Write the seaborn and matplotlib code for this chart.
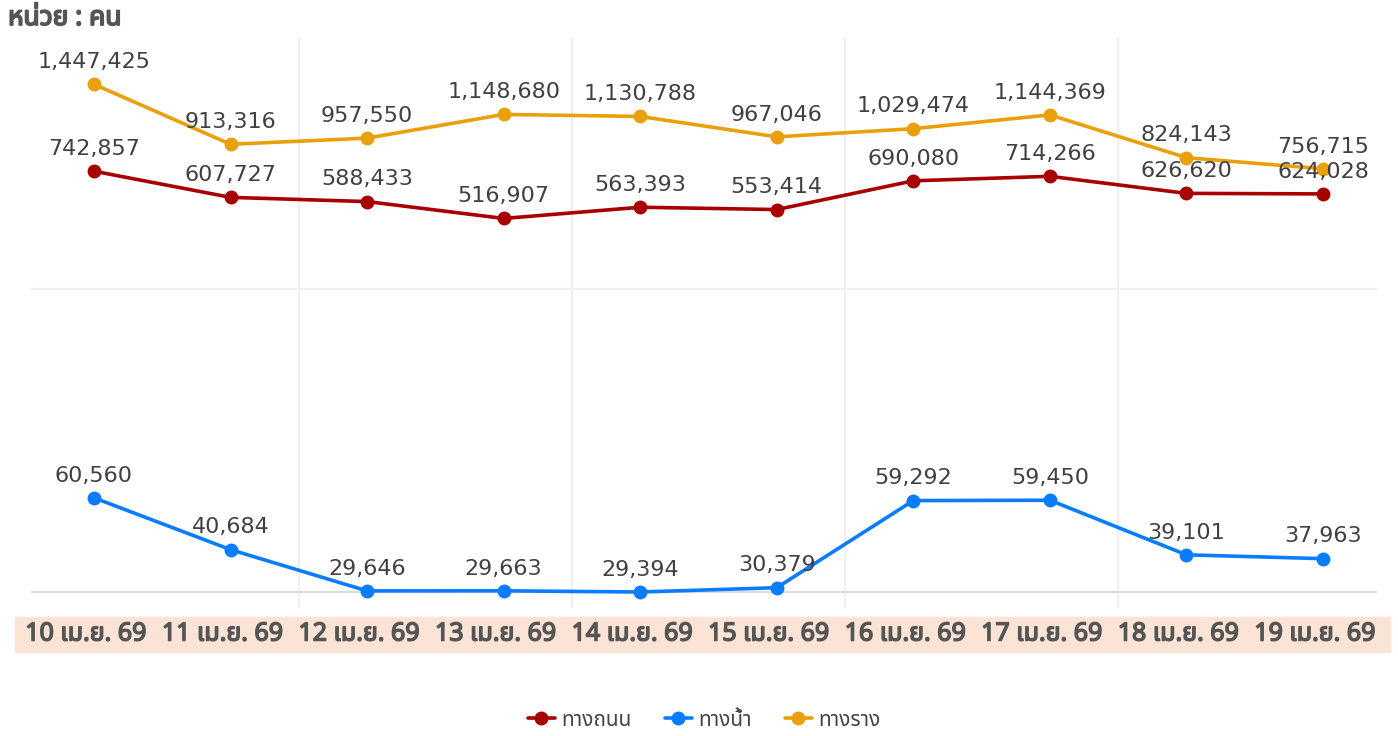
import numpy as np
import pandas as pd
import matplotlib
matplotlib.use("Agg")
import matplotlib.pyplot as plt
import matplotlib.transforms as mtransforms
import matplotlib.patheffects as pe
from matplotlib import font_manager, ft2font
from matplotlib.lines import Line2D
import seaborn as sns

# ---------------- data ----------------
dates = ["10 เม.ย. 69", "11 เม.ย. 69", "12 เม.ย. 69", "13 เม.ย. 69", "14 เม.ย. 69",
         "15 เม.ย. 69", "16 เม.ย. 69", "17 เม.ย. 69", "18 เม.ย. 69", "19 เม.ย. 69"]
road = [742857, 607727, 588433, 516907, 563393, 553414, 690080, 714266, 626620, 624028]
water = [60560, 40684, 29646, 29663, 29394, 30379, 59292, 59450, 39101, 37963]
rail = [1447425, 913316, 957550, 1148680, 1130788, 967046, 1029474, 1144369, 824143, 756715]
series_names = ["ทางถนน", "ทางน้ำ", "ทางราง"]
series_colors = ["#A80000", "#0A7CFF", "#E9A00A"]
unit_text = "หน่วย : คน"

# ---------------- fonts ----------------
sns.set_theme(style="white")
cands = {}
for f in font_manager.fontManager.ttflist:
    try:
        cm = ft2font.FT2Font(f.fname).get_charmap()
    except Exception:
        continue
    if 0x0E17 in cm and 0x0E19 in cm:
        w = f.weight if isinstance(f.weight, int) else 400
        cands.setdefault(f.name, set()).add(w)
pref = ["Noto Sans Thai", "Noto Sans Thai UI", "Sarabun", "Loma", "Garuda", "Waree",
        "Umpush", "Kinnari", "Norasi", "Sawasdee", "Laksaman", "Tlwg Typo", "Purisa"]
thai_font = None
has_bold = False
for p in pref:
    if p in cands:
        thai_font = p
        break
if thai_font is None and cands:
    thai_font = sorted(cands)[0]
if thai_font is not None:
    has_bold = max(cands[thai_font]) >= 600
fam = ([thai_font] if thai_font else []) + ["DejaVu Sans"]
plt.rcParams["font.family"] = fam


def bold_fx(color, width):
    if has_bold:
        return []
    return [pe.withStroke(linewidth=width, foreground=color)]


# ---------------- long-form table ----------------
x = np.arange(len(dates))
df = pd.DataFrame({
    "x": np.concatenate([x, x, x]),
    "value": road + water + rail,
    "series": [series_names[0]] * len(x) + [series_names[1]] * len(x) + [series_names[2]] * len(x),
})

W, H = 1398, 736
fig = plt.figure(figsize=(W / 100, H / 100), dpi=100)
ax_l, ax_r, ax_t, ax_b = 32, 1376, 38, 592
ax = fig.add_axes([ax_l / W, 1 - ax_b / H, (ax_r - ax_l) / W, (ax_b - ax_t) / H])

ymin = 29394
ymax = ymin * 10 ** ((ax_b - ax_t) / 300.0)
ax.set_yscale("log")
ax.set_ylim(ymin, ymax)
ax.set_xlim(-0.454, 9.388)

# grid lines
ax.axhline(300000, color="#EFEFEF", lw=1.6, zorder=0)
ax.axhline(ymin, color="#DCDCDC", lw=1.6, zorder=0.5, clip_on=False)
for b in [1.5, 3.5, 5.5, 7.5]:
    ax.axvline(b, ymin=-0.027, ymax=1.0, color="#EFEFEF", lw=1.4, zorder=0, clip_on=False)

sns.lineplot(data=df, x="x", y="value", hue="series", hue_order=series_names,
             palette=series_colors, marker="o", markersize=10, markeredgewidth=0,
             linewidth=2.6, ax=ax, legend=False, zorder=3)
for ln in ax.lines:
    ln.set_clip_on(False)

# data labels
for vals in [road, water, rail]:
    for i, v in enumerate(vals):
        ax.annotate(f"{v:,}", (i, v), xytext=(0, 16), textcoords="offset points",
                    ha="center", va="center", fontsize=16, color="#404040",
                    family=["DejaVu Sans"], zorder=5)

# axes cosmetics
for s in ax.spines.values():
    s.set_visible(False)
ax.set_yticks([])
ax.minorticks_off()
ax.yaxis.set_minor_locator(matplotlib.ticker.NullLocator())
ax.set_xticks([])
ax.set_xlabel("")
ax.set_ylabel("")
ax.patch.set_alpha(0)

# x label band
band = plt.Rectangle((15 / W, 1 - 652 / H), (1390 - 15) / W, (652 - 617) / H,
                     transform=fig.transFigure, color="#FBE3D6", zorder=-5)
fig.patches.append(band)
trans = mtransforms.blended_transform_factory(ax.transData, fig.transFigure)
for i, d in enumerate(dates):
    ax.text(i - 0.06, 1 - 634 / H, d, transform=trans, ha="center", va="center",
            fontsize=18, fontweight="bold", color="#555555", clip_on=False, zorder=6,
            path_effects=bold_fx("#555555", 1.1))

# unit text
fig.text(8 / W, 1 - 18 / H, unit_text, ha="left", va="center", fontsize=19,
         fontweight="bold", color="#555555", path_effects=bold_fx("#555555", 1.3))

# legend
handles = [Line2D([0], [0], color=c, lw=2.6, marker="o", markersize=9) for c in series_colors]
fig.legend(handles, series_names, loc="center", bbox_to_anchor=(704 / W, 1 - 720 / H),
           ncol=3, frameon=False, fontsize=15, handlelength=1.3, handletextpad=0.3,
           columnspacing=1.6, labelcolor="#444444")

fig.savefig("out.png", dpi=100)
